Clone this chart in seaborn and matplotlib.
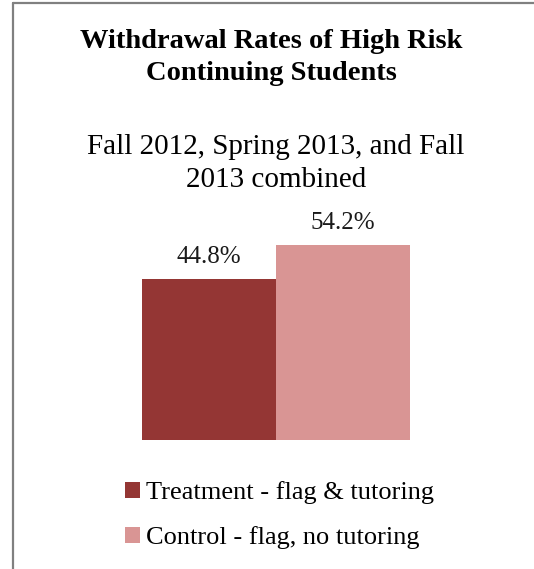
import matplotlib
matplotlib.use("Agg")
import matplotlib.pyplot as plt
from matplotlib.lines import Line2D
from matplotlib.patches import Patch
import seaborn as sns
import pandas as pd

# Chart data
groups = ["Treatment - flag & tutoring", "Control - flag, no tutoring"]
rates = [44.8, 54.2]
colors = ["#943634", "#D99594"]
title_lines = ["Withdrawal Rates of High Risk", "Continuing Students"]
subtitle_lines = ["Fall 2012, Spring 2013, and Fall", "2013 combined"]

sns.set_theme(style="white")
plt.rcParams["font.family"] = ["Liberation Serif", "DejaVu Serif"]

W, H = 534, 569
fig = plt.figure(figsize=(W / 100, H / 100), dpi=100)
fig.patch.set_facecolor("white")

def px_rect(x0, y0, x1, y1):
    return [x0 / W, 1 - y1 / H, (x1 - x0) / W, (y1 - y0) / H]

ax = fig.add_axes(px_rect(142, 224, 410, 440))
df = pd.DataFrame({"group": groups, "rate": rates})
sns.barplot(data=df, x="group", y="rate", hue="group", palette=colors,
            width=1.0, ax=ax, legend=False, saturation=1.0, linewidth=0)
ax.set_xlim(-0.5, 1.5)
ax.set_ylim(0, 60)
ax.axis("off")

for cont in ax.containers:
    ax.bar_label(cont, labels=[f"{v:.1f}%" for v in cont.datavalues],
                 padding=8, fontsize=18, color="#1a1a1a", clip_on=False)

# Title and subtitle
fig.text(271 / W, 1 - 42 / H, title_lines[0], ha="center", va="center",
         fontsize=20.5, fontweight="bold", color="black")
fig.text(271 / W, 1 - 74 / H, title_lines[1], ha="center", va="center",
         fontsize=20.5, fontweight="bold", color="black")
fig.text(276 / W, 1 - 147 / H, subtitle_lines[0], ha="center", va="center",
         fontsize=21, color="black")
fig.text(276 / W, 1 - 180 / H, subtitle_lines[1], ha="center", va="center",
         fontsize=21, color="black")

# Legend
handles = [Patch(facecolor=c, edgecolor="none") for c in colors]
fig.legend(handles, groups, loc="upper left",
           bbox_to_anchor=(125 / W, 1 - 481 / H), frameon=False,
           fontsize=19, handlelength=0.55, handleheight=0.55,
           handletextpad=0.25, labelspacing=0.85, borderaxespad=0,
           borderpad=0, labelcolor="black")

# Chart-area frame (left and top edges)
frame_kw = dict(color="#808080", linewidth=1.6, transform=fig.transFigure)
fig.add_artist(Line2D([12.5 / W, 12.5 / W], [0, 1 - 2.5 / H], **frame_kw))
fig.add_artist(Line2D([12.5 / W, 1], [1 - 2.5 / H, 1 - 2.5 / H], **frame_kw))

fig.savefig("out.png", dpi=100, facecolor="white")
